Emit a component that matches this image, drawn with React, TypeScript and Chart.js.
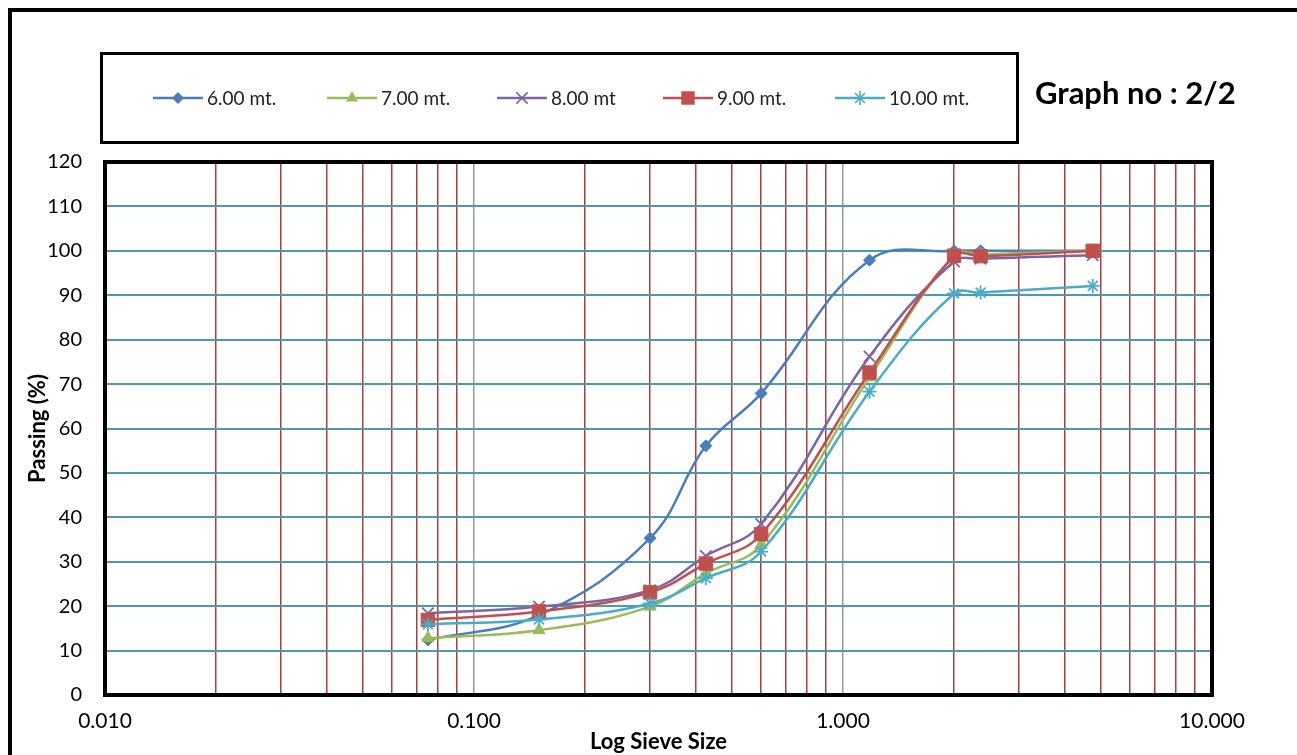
import React, { useEffect, useRef } from 'react';
import { Chart, registerables } from 'chart.js';

Chart.register(...registerables);

// ---- data ----
const sieveSizes = [0.075, 0.15, 0.3, 0.425, 0.6, 1.18, 2.0, 2.36, 4.75];
const depth6 = [12.4, 18.0, 35.3, 56.1, 67.9, 97.9, 100, 100, 100];
const depth7 = [12.8, 14.6, 19.9, 27.4, 33.8, 71.5, 99.0, 99.2, 100];
const depth8 = [18.4, 19.9, 23.6, 31.3, 38.5, 76.2, 97.6, 98.2, 99.0];
const depth9 = [16.9, 18.8, 23.1, 29.6, 36.2, 72.6, 98.9, 98.8, 100];
const depth10 = [15.9, 17.0, 20.6, 26.3, 32.3, 68.3, 90.4, 90.6, 92.1];
const seriesLabels = ['6.00 mt.', '7.00 mt.', '8.00 mt', '9.00 mt.', '10.00 mt.'];
const seriesValues = [depth6, depth7, depth8, depth9, depth10];
const seriesColors = ['#4a7ebb', '#9bbb59', '#8064a2', '#c0504d', '#4bacc6'];
const seriesMarkers = ['rectRot', 'triangle', 'crossRot', 'rect', 'star'];
const seriesMarkerRadius = [6, 7, 8, 9.5, 7];
const xDecadeLabels = ['0.010', '0.100', '1.000', '10.000'];
const xGridValues: number[] = [];
for (let e = -2; e <= 0; e++) {
  for (let m = 1; m <= 9; m++) xGridValues.push(Number((m * Math.pow(10, e)).toPrecision(3)));
}
xGridValues.push(10);
const yMin = 0;
const yMax = 120;
const yStep = 10;
const chartTitle = 'Graph no : 2/2';
const xTitle = 'Log Sieve Size';
const yTitle = 'Passing (%)';

const FONT = 'Lato, "Open Sans", sans-serif';

function isDecade(v: number) {
  const l = Math.log10(v);
  return Math.abs(l - Math.round(l)) < 1e-9;
}

function drawMarker(ctx: CanvasRenderingContext2D, style: string, x: number, y: number, r: number, color: string) {
  ctx.save();
  ctx.fillStyle = color;
  ctx.strokeStyle = color;
  ctx.lineWidth = 1.6;
  ctx.beginPath();
  if (style === 'rectRot') {
    ctx.moveTo(x, y - r);
    ctx.lineTo(x + r, y);
    ctx.lineTo(x, y + r);
    ctx.lineTo(x - r, y);
    ctx.closePath();
    ctx.fill();
  } else if (style === 'triangle') {
    ctx.moveTo(x, y - r);
    ctx.lineTo(x + r * 0.866, y + r * 0.5);
    ctx.lineTo(x - r * 0.866, y + r * 0.5);
    ctx.closePath();
    ctx.fill();
  } else if (style === 'crossRot') {
    const d = r * 0.707;
    ctx.moveTo(x - d, y - d);
    ctx.lineTo(x + d, y + d);
    ctx.moveTo(x + d, y - d);
    ctx.lineTo(x - d, y + d);
    ctx.stroke();
  } else if (style === 'rect') {
    const s = r * 0.707;
    ctx.fillRect(x - s, y - s, 2 * s, 2 * s);
  } else if (style === 'star') {
    const d = r * 0.707;
    ctx.moveTo(x - d, y - d);
    ctx.lineTo(x + d, y + d);
    ctx.moveTo(x + d, y - d);
    ctx.lineTo(x - d, y + d);
    ctx.moveTo(x, y - r);
    ctx.lineTo(x, y + r);
    ctx.stroke();
  }
  ctx.restore();
}

const decorPlugin = {
  id: 'decor',
  beforeDraw(chart: any) {
    const { ctx, width, height } = chart;
    ctx.save();
    ctx.fillStyle = '#ffffff';
    ctx.fillRect(0, 0, width, height);
    ctx.restore();
  },
  afterDraw(chart: any) {
    const { ctx, chartArea } = chart;
    ctx.save();
    // outer frame
    ctx.strokeStyle = '#000';
    ctx.lineWidth = 4;
    ctx.strokeRect(10, 10, 1400, 900);
    // plot border
    ctx.lineWidth = 4;
    ctx.strokeRect(chartArea.left, chartArea.top, chartArea.right - chartArea.left, chartArea.bottom - chartArea.top);
    // legend box
    ctx.lineWidth = 3;
    ctx.strokeRect(101.5, 53.5, 916, 89);
    // legend items
    const starts = [153, 327, 497, 663, 835];
    const ly = 98;
    chart.data.datasets.forEach((ds: any, i: number) => {
      const x0 = starts[i];
      ctx.strokeStyle = ds.borderColor;
      ctx.lineWidth = 2.5;
      ctx.beginPath();
      ctx.moveTo(x0, ly);
      ctx.lineTo(x0 + 50, ly);
      ctx.stroke();
      drawMarker(ctx, ds.pointStyle, x0 + 25, ly, ds.pointRadius, ds.borderColor);
      ctx.fillStyle = '#222';
      ctx.font = `19px ${FONT}`;
      ctx.textBaseline = 'middle';
      ctx.textAlign = 'left';
      ctx.fillText(ds.label, x0 + 54, ly + 1);
    });
    // graph title
    ctx.fillStyle = '#000';
    ctx.font = `bold 31px ${FONT}`;
    ctx.textBaseline = 'alphabetic';
    ctx.textAlign = 'left';
    ctx.fillText(chartTitle, 1035, 104);
    ctx.restore();
  },
};

export default function App() {
  const canvasRef = useRef<HTMLCanvasElement | null>(null);

  useEffect(() => {
    const canvas = canvasRef.current;
    if (!canvas) return;
    const datasets = seriesLabels.map((label, i) => ({
      label,
      data: sieveSizes.map((x, j) => ({ x, y: seriesValues[i][j] })),
      borderColor: seriesColors[i],
      backgroundColor: seriesColors[i],
      pointBackgroundColor: seriesColors[i],
      pointBorderColor: seriesColors[i],
      pointStyle: seriesMarkers[i],
      pointRadius: seriesMarkerRadius[i],
      pointBorderWidth: seriesMarkers[i] === 'crossRot' || seriesMarkers[i] === 'star' ? 1.8 : 1,
      borderWidth: 2.5,
      tension: 0.4,
      fill: false,
      order: seriesLabels.length - i,
    }));

    const chart = new Chart(canvas, {
      type: 'line',
      data: { datasets },
      plugins: [decorPlugin],
      options: {
        responsive: false,
        animation: false,
        events: [],
        layout: { padding: { left: 25, right: 85, top: 162, bottom: 0 } },
        plugins: { legend: { display: false }, tooltip: { enabled: false } },
        scales: {
          x: {
            type: 'logarithmic',
            min: 0.01,
            max: 10,
            afterBuildTicks: (scale: any) => {
              scale.ticks = xGridValues.map((v) => ({ value: v }));
            },
            afterFit: (scale: any) => {
              scale.height = 60;
              scale.paddingLeft = 0;
              scale.paddingRight = 0;
              scale.paddingTop = 0;
              scale.paddingBottom = 0;
            },
            ticks: {
              autoSkip: false,
              maxRotation: 0,
              minRotation: 0,
              padding: 14,
              color: '#000',
              font: { family: FONT, size: 21 },
              callback: (v: any) => {
                const n = Number(v);
                if (!isDecade(n)) return '';
                return xDecadeLabels[Math.round(Math.log10(n)) + 2];
              },
            },
            grid: {
              drawTicks: false,
              lineWidth: 1.5,
              color: (c: any) => (c.tick && isDecade(c.tick.value) ? '#999999' : '#a4403d'),
            },
            border: { display: false },
            title: {
              display: true,
              text: xTitle,
              color: '#000',
              font: { family: FONT, size: 22, weight: 'bold' },
              padding: { top: 0, bottom: 0 },
            },
          },
          y: {
            type: 'linear',
            min: yMin,
            max: yMax,
            afterFit: (scale: any) => {
              scale.width = 80;
              scale.paddingLeft = 0;
              scale.paddingRight = 0;
              scale.paddingTop = 0;
              scale.paddingBottom = 0;
            },
            ticks: {
              stepSize: yStep,
              padding: 23,
              color: '#000',
              font: { family: FONT, size: 20 },
            },
            grid: {
              drawTicks: false,
              lineWidth: 2,
              color: '#4a9bae',
            },
            border: { display: false },
            title: {
              display: true,
              text: yTitle,
              color: '#000',
              font: { family: FONT, size: 22, weight: 'bold' },
              padding: { top: 0, bottom: 0 },
            },
          },
        },
      } as any,
    });
    return () => chart.destroy();
  }, []);

  return (
    <div style={{ position: 'fixed', left: 0, top: 0, width: 1297, height: 755, background: '#fff' }}>
      <canvas ref={canvasRef} width={1297} height={755} style={{ display: 'block', width: 1297, height: 755 }} />
    </div>
  );
}
